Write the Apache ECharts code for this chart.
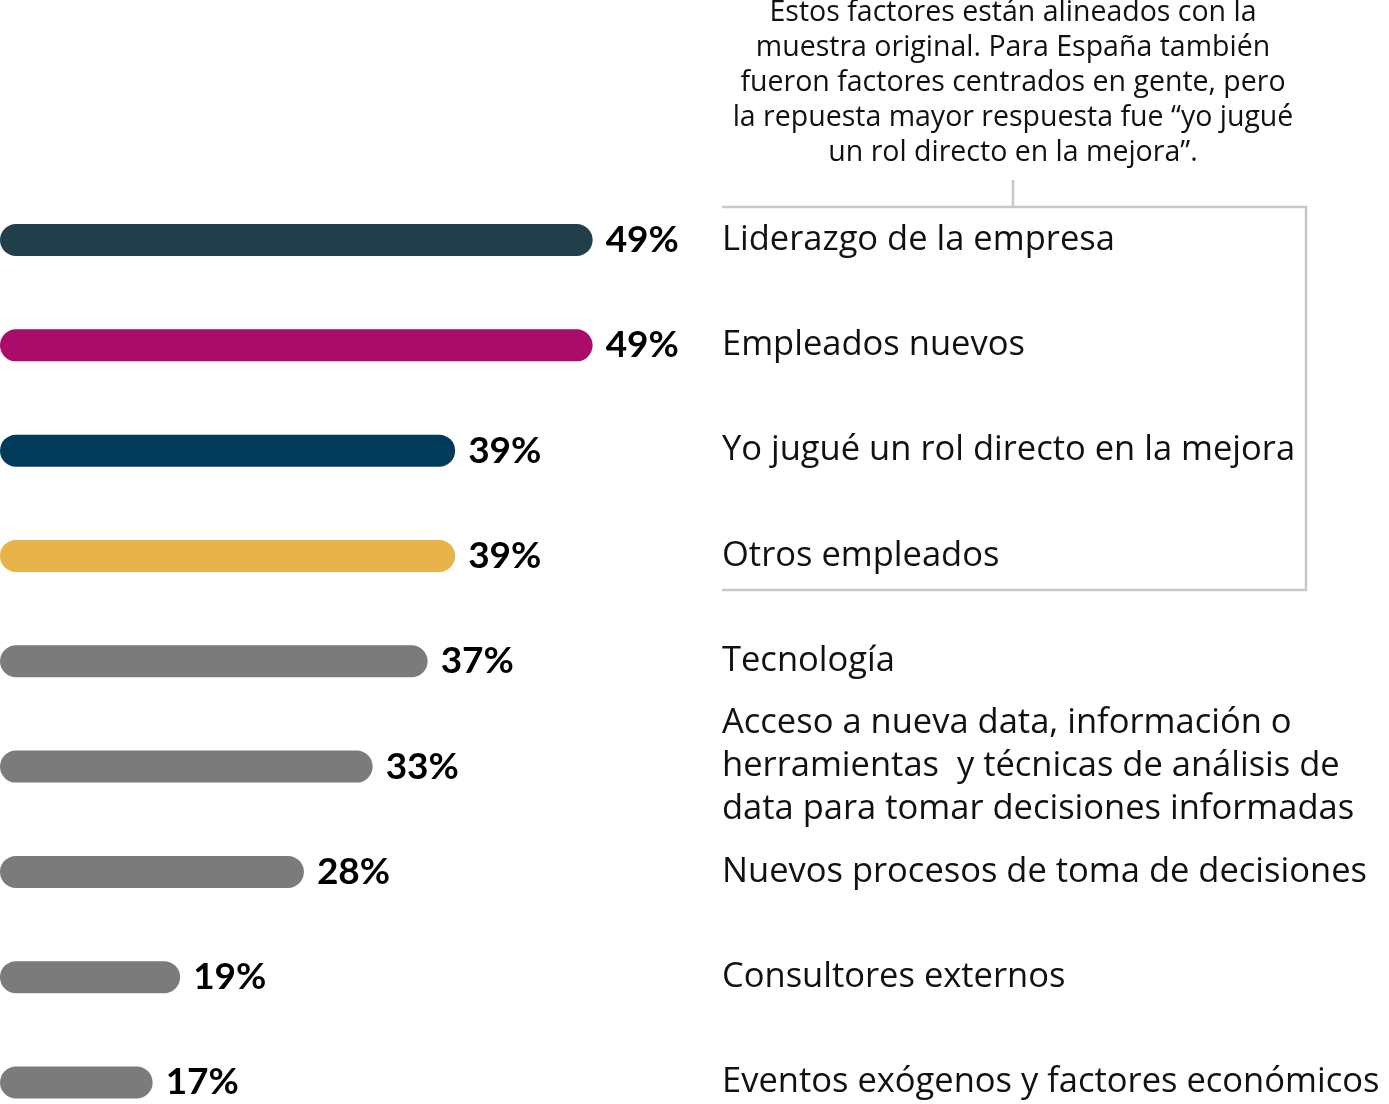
<!DOCTYPE html>
<html lang="es" style="height: 100%">
<head>
  <meta charset="utf-8">
</head>
<body style="height: 100%; margin: 0; background: #fff">
  <div id="container" style="width: 1389px; height: 1104px"></div>
  <script type="text/javascript" src="https://fastly.jsdelivr.net/npm/echarts@6.0.0/dist/echarts.min.js"></script>
  <script type="text/javascript">
    // datos
    var categories = [
      'Liderazgo de la empresa',
      'Empleados nuevos',
      'Yo jugué un rol directo en la mejora',
      'Otros empleados',
      'Tecnología',
      'Acceso a nueva data, información o\nherramientas  y técnicas de análisis de\ndata para tomar decisiones informadas',
      'Nuevos procesos de toma de decisiones',
      'Consultores externos',
      'Eventos exógenos y factores económicos'
    ];
    var values = [49, 49, 39, 39, 37, 33, 28, 19, 17];
    var barColors = ['#213e4b', '#a90c69', '#003c5a', '#e8b44a', '#7b7b7b', '#7b7b7b', '#7b7b7b', '#7b7b7b', '#7b7b7b'];
    var note = 'Estos factores están alineados con la\nmuestra original. Para España también\nfueron factores centrados en gente, pero\nla repuesta mayor respuesta fue “yo jugué\nun rol directo en la mejora”.';

    var dom = document.getElementById('container');
    var myChart = echarts.init(dom, null, { renderer: 'canvas' });

    var font = '"Open Sans", Lato, sans-serif';

    var option = {
      backgroundColor: '#fff',
      animation: false,
      // categorías sobre los ticks: primera barra en y=239, última en y=1086
      grid: {
        left: 0,
        top: 240,
        width: 687.5,
        height: 847
      },
      xAxis: {
        type: 'value',
        min: 5.9,
        max: 55.9,
        show: false
      },
      yAxis: {
        type: 'category',
        inverse: true,
        boundaryGap: false,
        position: 'right',
        data: categories,
        axisLine: { show: false },
        axisTick: { show: false },
        splitLine: { show: false },
        axisLabel: {
          margin: 34.5,
          align: 'left',
          color: '#111',
          fontFamily: font,
          fontSize: 34.5,
          lineHeight: 43
        }
      },
      series: [
        {
          type: 'bar',
          barWidth: 32,
          data: values.map(function (v, i) {
            return { value: v, itemStyle: { color: barColors[i] } };
          }),
          itemStyle: { borderRadius: 16 },
          label: {
            show: true,
            position: 'right',
            distance: 13,
            formatter: '{c}%',
            color: '#000',
            fontFamily: 'Lato, sans-serif',
            fontWeight: 'bold',
            fontSize: 37
          }
        }
      ],
      graphic: [
        {
          type: 'text',
          x: 1013,
          y: -5,
          style: {
            text: note,
            align: 'center',
            verticalAlign: 'top',
            fill: '#111',
            font: '28.5px ' + font,
            lineHeight: 35
          }
        },
        {
          type: 'polyline',
          shape: { points: [[722, 207], [1306, 207], [1306, 590], [722, 590]] },
          style: { stroke: '#c8c8c8', lineWidth: 2.5, fill: null }
        },
        {
          type: 'line',
          shape: { x1: 1013, y1: 180, x2: 1013, y2: 207 },
          style: { stroke: '#c8c8c8', lineWidth: 2.5 }
        }
      ]
    };

    myChart.setOption(option);
    window.addEventListener('resize', myChart.resize);
  </script>
</body>
</html>
